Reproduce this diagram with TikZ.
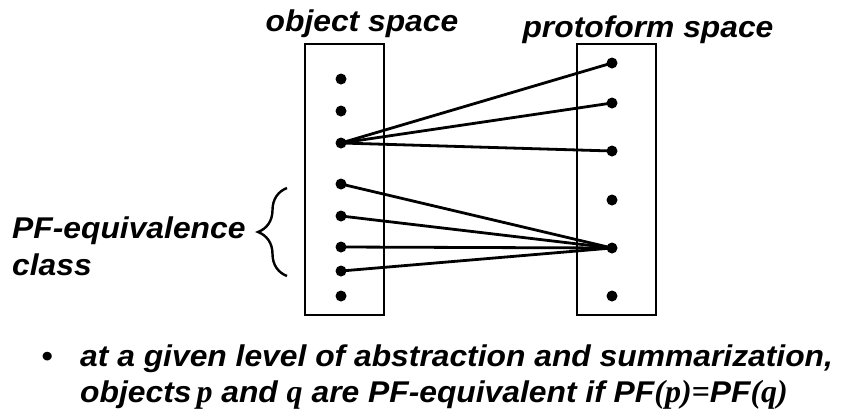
\documentclass[tikz,border=0pt]{standalone}
\usepackage{fontspec}
\setmainfont{Liberation Sans}[FakeStretch=1.06]
\newfontfamily\tms{Liberation Serif}
\usetikzlibrary{decorations.pathreplacing}
\tikzset{
  dot/.style={circle,fill=black,inner sep=0pt,minimum size=11pt},
  lnk/.style={line width=2.8pt,line cap=round},
  spacebox/.style={draw,line width=2.8pt,inner sep=0pt,minimum width=79pt,minimum height=271pt},
  lbl/.style={font=\fontsize{30}{36}\selectfont\bfseries\itshape,inner sep=0pt}
}
\newcommand\tvar[1]{{\fontsize{32}{36}\selectfont\tms #1}}

\begin{document}
\begin{tikzpicture}[x=1pt,y=-1pt]
\useasboundingbox (0,0) rectangle (841,416);
% the two spaces
\node[spacebox] (objbox) at (344.5,179.5) {};
\node[spacebox] (pfbox) at (616.5,179.5) {};
\node[lbl,anchor=base] (objtitle) at (362,31) {object space};
\node[lbl,anchor=base] (pftitle) at (648,37) {protoform space};
% objects and protoforms
\foreach \y [count=\i] in {79,111,143,184,216,247,271,296}
  \node[dot] (o\i) at (341,\y) {};
\foreach \y [count=\i] in {63,103,151,200,248,296}
  \node[dot] (p\i) at (612,\y) {};
\foreach \j in {1,2,3} \draw[lnk] (o3.center)--(p\j.center);
\foreach \i in {4,...,7} \draw[lnk] (o\i.center)--(p5.center);
% equivalence class
\coordinate (brtop) at (287,188);
\coordinate (brbot) at (287,276);
\draw[line width=2.4pt,decorate,decoration={brace,amplitude=29pt,aspect=0.5}] (brbot)--(brtop);
\node[lbl,anchor=base west] (pfeq) at (12,238) {PF-equivalence};
\node[lbl,anchor=base west] (pfcls) at (12,275) {class};
% bullet
\node[lbl,anchor=base] (bul) at (47,366) {•};
\node[lbl,anchor=base west] (line1) at (80,366) {at a given level of abstraction and summarization,};
\node[lbl,anchor=base west] (line2) at (80,402) {objects\,\tvar{p} and \tvar{q} are PF-equivalent if PF\tvar{(p)=}PF\tvar{(q)}};
\end{tikzpicture}
\end{document}
